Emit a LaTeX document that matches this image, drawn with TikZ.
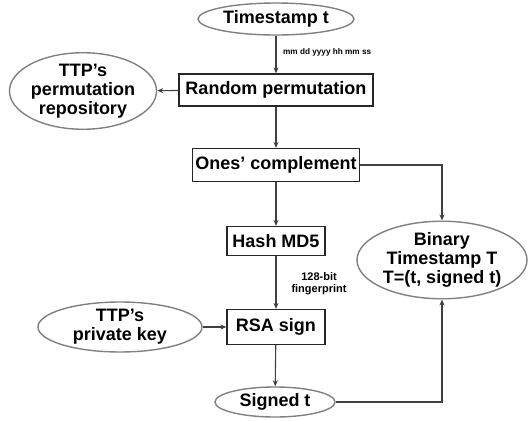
\documentclass[tikz,border=0pt]{standalone}
\usepackage{fontspec}
\setmainfont{Liberation Sans}
\usetikzlibrary{shapes.geometric,arrows.meta}
\begin{document}
\begin{tikzpicture}[x=1pt,y=-1pt,
  font=\bfseries\fontsize{18}{20}\selectfont,
  procbox/.style={draw=black!85,line width=1.2pt,rectangle,inner sep=0pt},
  oval/.style={draw=black!50,line width=1.4pt,ellipse,inner sep=0pt,align=center},
  flow/.style={draw=black!75,line width=1.1pt,-{Stealth[length=6pt,width=5pt]}},
  smalllab/.style={font=\bfseries\fontsize{8.2}{9}\selectfont,inner sep=0pt},
  midlab/.style={font=\bfseries\fontsize{11}{12}\selectfont,inner sep=0pt,align=center}]
\useasboundingbox (0,0) rectangle (531,421);
\node[oval,minimum width=156pt,minimum height=32pt] (ts) at (276,19) {Timestamp t};
\node[procbox,minimum width=194pt,minimum height=32pt] (rp) at (276,90) {Random permutation};
\node[oval,minimum width=145pt,minimum height=62pt] (perm) at (83,91) {TTP's\\[-1pt]permutation\\[-1pt]repository};
\node[procbox,minimum width=167pt,minimum height=33pt] (oc) at (276,165) {Ones' complement};
\node[procbox,minimum width=98pt,minimum height=29pt] (md5) at (276,241) {Hash MD5};
\node[procbox,minimum width=98pt,minimum height=35pt] (rsa) at (276,327) {RSA sign};
\node[oval,minimum width=164pt,minimum height=50pt] (key) at (120,327) {TTP's\\[-1pt]private key};
\node[oval,minimum width=120pt,minimum height=30pt] (st) at (275,402) {Signed t};
\node[oval,minimum width=170pt,minimum height=64pt] (bin) at (442,260) {Binary\\[-1pt]Timestamp T\\[-1pt]T=(t, signed t)};
\node[smalllab,anchor=west] (fmt) at (283,52) {mm dd yyyy hh mm ss};
\node[midlab] (fp) at (319,284) {128-bit\\fingerprint};
\draw[flow] (ts) -- (rp);
\draw[flow] (rp) -- (perm);
\draw[flow] (rp) -- (oc);
\draw[flow] (oc) -- (md5);
\draw[flow] (md5) -- (rsa);
\draw[flow] (key) -- (rsa);
\draw[flow] (rsa) -- (st);
\draw[flow] (oc.east) -| (bin.north);
\draw[flow] (st.east) -| (bin.south);
\end{tikzpicture}
\end{document}
